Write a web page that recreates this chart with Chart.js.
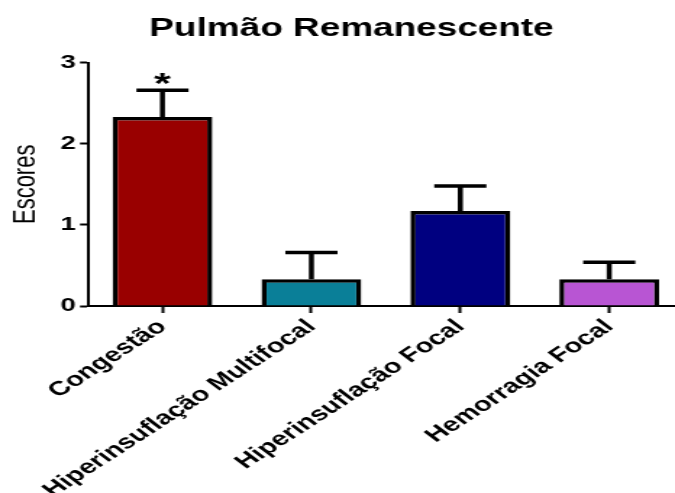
<!DOCTYPE html>
<html>
<head>
<meta charset="utf-8">
<script src="https://cdn.jsdelivr.net/npm/chart.js@4"></script>
<style>
  html, body { margin: 0; padding: 0; background: #fff; overflow: hidden; }
  #frame { position: absolute; left: 0; top: 0; width: 675px; height: 493px; overflow: hidden; background: #fff; }
  /* the figure is drawn narrow and widened horizontally */
  #chart { position: absolute; left: 0; top: 0; width: 480px; height: 493px; transform: scaleX(1.4485); transform-origin: 0 0; }
</style>
</head>
<body>
<div id="frame"><canvas id="chart" width="480" height="493"></canvas></div>
<script>
const categories = ['Congestão', 'Hiperinsuflação Multifocal', 'Hiperinsuflação Focal', 'Hemorragia Focal'];
const means = [2.33, 0.33, 1.17, 0.33];
const sem = [0.33, 0.33, 0.31, 0.21];
const marks = ['*', '', '', ''];
const barColors = ['#990000', '#0a7f98', '#000080', '#b855d3'];
const yTicks = [0, 1, 2, 3];

const FONT = "'Liberation Sans', Arial, Helvetica, sans-serif";

// mean + SEM whiskers and significance marks above each bar
const errorBars = {
  id: 'errorBars',
  afterDatasetsDraw(chart) {
    const ctx = chart.ctx;
    const meta = chart.getDatasetMeta(0);
    const y = chart.scales.y;
    ctx.save();
    ctx.strokeStyle = '#000';
    ctx.lineWidth = 3.5;
    ctx.lineCap = 'butt';
    meta.data.forEach((bar, i) => {
      const yTop = y.getPixelForValue(means[i]);
      const yErr = y.getPixelForValue(means[i] + sem[i]);
      const half = 18;
      ctx.beginPath();
      ctx.moveTo(bar.x, yTop);
      ctx.lineTo(bar.x, yErr);
      ctx.moveTo(bar.x - half, yErr);
      ctx.lineTo(bar.x + half, yErr);
      ctx.stroke();
      if (marks[i]) {
        ctx.fillStyle = '#000';
        ctx.font = 'bold 30px ' + FONT;
        ctx.textAlign = 'center';
        ctx.textBaseline = 'alphabetic';
        ctx.fillText(marks[i], bar.x, yErr + 3);
      }
    });
    ctx.restore();
  }
};

new Chart(document.getElementById('chart'), {
  type: 'bar',
  data: {
    labels: categories,
    datasets: [{
      data: means,
      backgroundColor: barColors,
      borderColor: '#000',
      borderWidth: 3.5,
      barPercentage: 0.67,
      categoryPercentage: 1.0
    }]
  },
  options: {
    responsive: false,
    animation: false,
    devicePixelRatio: 1,
    layout: { padding: { left: 13.4, right: 8, top: 0, bottom: 0 } },
    plugins: {
      legend: { display: false },
      tooltip: { enabled: false },
      title: {
        display: true,
        text: 'Pulmão Remanescente',
        color: '#000',
        font: { family: FONT, size: 25.5, weight: 'bold' },
        padding: { top: 14, bottom: 18 }
      }
    },
    scales: {
      x: {
        offset: true,
        afterFit(scale) { scale.height = 187; },
        grid: { offset: false, drawOnChartArea: false, drawTicks: true, tickLength: 7, tickWidth: 2, tickColor: '#000' },
        border: { display: true, color: '#000', width: 2 },
        ticks: {
          autoSkip: false,
          minRotation: 43,
          maxRotation: 43,
          padding: 2,
          color: '#000',
          font: { family: FONT, size: 20, weight: 'bold' }
        }
      },
      y: {
        min: 0,
        max: 3,
        afterFit(scale) { scale.width = 47.35; },
        afterBuildTicks(scale) { scale.ticks = yTicks.map(v => ({ value: v })); },
        grid: { drawOnChartArea: false, drawTicks: true, tickLength: 5.5, tickWidth: 2, tickColor: '#000' },
        border: { display: true, color: '#000', width: 2 },
        ticks: {
          padding: 3,
          color: '#000',
          font: { family: FONT, size: 19, weight: 'bold' }
        },
        title: {
          display: true,
          text: 'Escores',
          color: '#000',
          padding: { top: -8.4, bottom: 0 },
          font: { family: FONT, size: 22, weight: 'normal' }
        }
      }
    }
  },
  plugins: [errorBars]
});
</script>
</body>
</html>
